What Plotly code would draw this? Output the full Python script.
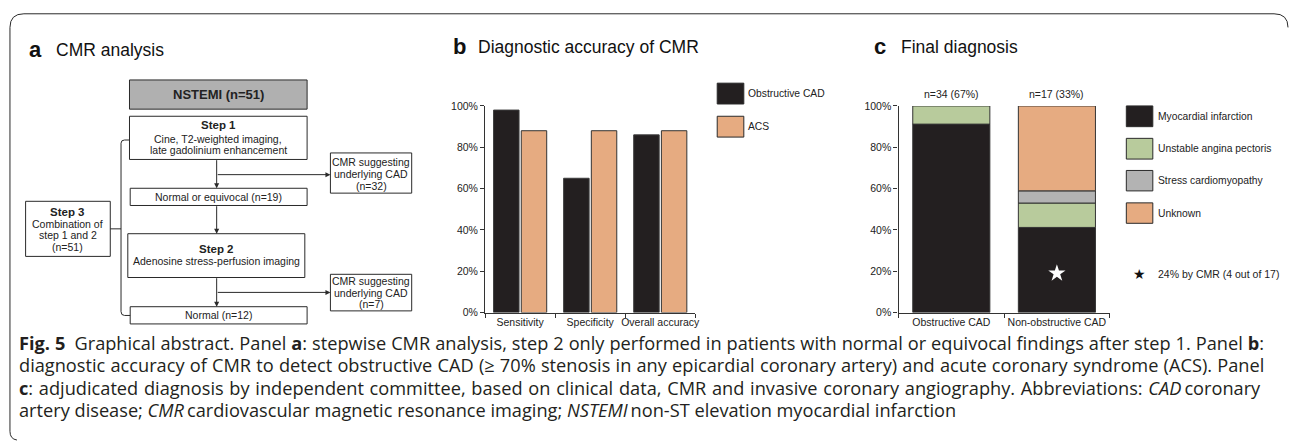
import plotly.graph_objects as go

W, H = 1293, 447

# ---------------- data ----------------
# Panel b: diagnostic accuracy of CMR (%)
acc_categories = ["Sensitivity", "Specificity", "Overall accuracy"]
acc_obstructive_cad = [98, 65, 86]
acc_acs = [88, 88, 88]
acc_series_names = ["Obstructive CAD", "ACS"]

# Panel c: final diagnosis (% of each group)
dx_categories = ["Obstructive CAD", "Non-obstructive CAD"]
dx_group_labels = ["n=34 (67%)", "n=17 (33%)"]
dx_mi = [91.2, 41.2]
dx_uap = [8.8, 11.8]
dx_stress = [None, 5.9]
dx_unknown = [None, 41.1]
dx_series_names = ["Myocardial infarction", "Unstable angina pectoris",
                   "Stress cardiomyopathy", "Unknown"]
star_category = ["Non-obstructive CAD"]
star_value = [19]
star_note = "24% by CMR (4 out of 17)"

pct_ticks = [0, 20, 40, 60, 80, 100]
pct_labels = ["0%", "20%", "40%", "60%", "80%", "100%"]

# Panel a: flowchart texts
fc_nstemi = "NSTEMI (n=51)"
fc_step1 = ["Step 1", "Cine, T2-weighted imaging,", "late gadolinium enhancement"]
fc_cmr1 = ["CMR suggesting", "underlying CAD", "(n=32)"]
fc_normeq = "Normal or equivocal (n=19)"
fc_step2 = ["Step 2", "Adenosine stress-perfusion imaging"]
fc_cmr2 = ["CMR suggesting", "underlying CAD", "(n=7)"]
fc_normal = "Normal (n=12)"
fc_step3 = ["Step 3", "Combination of", "step 1 and 2", "(n=51)"]

caption_lines = [
    "<b>Fig. 5</b>\u2002Graphical abstract. Panel <b>a</b>: stepwise CMR analysis, step 2 only performed in patients with normal or equivocal findings after step 1. Panel <b>b</b>:",
    "diagnostic accuracy of CMR to detect obstructive CAD (\u2265 70% stenosis in any epicardial coronary artery) and acute coronary syndrome (ACS). Panel",
    "<b>c</b>: adjudicated diagnosis by independent committee, based on clinical data, CMR and invasive coronary angiography. Abbreviations: <i>CAD</i>\u2009coronary",
    "artery disease; <i>CMR</i>\u2009cardiovascular magnetic resonance imaging; <i>NSTEMI</i>\u2009non-ST elevation myocardial infarction",
]
caption_word_spacing = [0.25, 0.5, 1.0, 0]

# ---------------- styles ----------------
BLACK = "#231f20"
ORANGE = "#e6ab81"
GREEN = "#b8cb9c"
GRAY = "#b3b3b3"
LINE = "#2a2a2a"
ARIAL = "Liberation Sans, Arial, sans-serif"
CAPFONT = "Open Sans, sans-serif"


def X(p):
    return p / W


def Y(p):
    return 1 - p / H


shapes = []
annotations = []


def box(x0, y0, x1, y1, fill="white", lw=1):
    shapes.append(dict(type="rect", xref="paper", yref="paper",
                       x0=X(x0), x1=X(x1), y0=Y(y1), y1=Y(y0),
                       line=dict(color=LINE, width=lw), fillcolor=fill))


def txt(x, y, s, size=10.5, anchor="center", color="#222", family=ARIAL):
    annotations.append(dict(xref="paper", yref="paper", x=X(x), y=Y(y), text=s,
                            showarrow=False, xanchor=anchor, yanchor="middle",
                            font=dict(size=size, color=color, family=family),
                            borderpad=0))


def arrow(x0, y0, x1, y1):
    annotations.append(dict(xref="paper", yref="paper", x=X(x1), y=Y(y1),
                            ax=x0 - x1, ay=y0 - y1, axref="pixel", ayref="pixel",
                            text="", showarrow=True, arrowhead=2, arrowsize=1,
                            arrowwidth=1, arrowcolor=LINE, standoff=0))


def path(pts_str):
    shapes.append(dict(type="path", xref="paper", yref="paper", path=pts_str,
                       line=dict(color=LINE, width=1)))


def P(x, y):
    return f"{X(x):.6f},{Y(y):.6f}"


# outer border (top & left, rounded)
path(f"M{P(1293, 22)} Q{P(1293, 8)} {P(1279, 8)} L{P(24, 8)} Q{P(10, 8)} {P(10, 22)} "
     f"L{P(10, 437)} Q{P(10, 445)} {P(17, 446)}")

# ---------------- panel titles ----------------
txt(28, 45, "<b>a</b>", size=22, anchor="left", color="#111")
txt(55, 45, "CMR analysis", size=17.5, anchor="left", color="#111")
txt(454, 42, "<b>b</b>", size=22, anchor="left", color="#111")
txt(479, 42, "Diagnostic accuracy of CMR", size=17.5, anchor="left", color="#111")
txt(876, 42, "<b>c</b>", size=22, anchor="left", color="#111")
txt(903, 42, "Final diagnosis", size=17.5, anchor="left", color="#111")

# ---------------- flowchart ----------------
CX = 217.5
box(130, 76, 308.3, 106, fill="#b0b0b0")
txt(219, 91, f"<b>{fc_nstemi}</b>", size=13)

box(130, 113.3, 308.3, 157.7)
txt(219, 122, f"<b>{fc_step1[0]}</b>", size=11.5)
txt(219, 136.5, fc_step1[1], size=10.5)
txt(219, 148, fc_step1[2], size=10.5)

box(331.7, 151, 413.3, 192.3)
for i, s in enumerate(fc_cmr1):
    txt(372.5, 160.5 + 12 * i, s, size=10.5)

box(130.7, 187.3, 308.3, 205)
txt(219.5, 196.2, fc_normeq, size=10.5)

box(128.3, 234, 306, 279)
txt(217, 249.5, f"<b>{fc_step2[0]}</b>", size=11.5)
txt(217, 262, fc_step2[1], size=10.5)

box(331.7, 275.7, 413.3, 313.3)
for i, s in enumerate(fc_cmr2):
    txt(372.5, 283 + 11.5 * i, s, size=10.5)

box(130.7, 309, 308.3, 326.7)
txt(219.5, 318, fc_normal, size=10.5)

box(25.7, 200.7, 110.7, 257.3)
txt(68, 211.7, f"<b>{fc_step3[0]}</b>", size=11.5)
for i, s in enumerate(fc_step3[1:]):
    txt(68, 223.5 + 12 * i, s, size=10.5)

arrow(CX, 157.7, CX, 187.3)
arrow(CX, 173.3, 331.7, 173.3)
arrow(CX, 205, CX, 234)
arrow(CX, 279, CX, 309)
arrow(CX, 294.3, 331.7, 294.3)
path(f"M{P(130, 137.7)} L{P(125, 137.7)} Q{P(121.5, 137.7)} {P(121.5, 141)} "
     f"L{P(121.5, 314)} Q{P(121.5, 318)} {P(125, 318)} L{P(130.7, 318)}")
path(f"M{P(110.7, 229)} L{P(121.5, 229)}")

# ---------------- panel b ----------------
fig = go.Figure()
fig.add_trace(go.Bar(x=acc_categories, y=acc_obstructive_cad, name=acc_series_names[0],
                     marker=dict(color=BLACK, line=dict(color="#3c3c3c", width=1)),
                     xaxis="x", yaxis="y", showlegend=False))
fig.add_trace(go.Bar(x=acc_categories, y=acc_acs, name=acc_series_names[1],
                     marker=dict(color=ORANGE, line=dict(color="#333", width=1)),
                     xaxis="x", yaxis="y", showlegend=False))

# legend b
box(720, 79.3, 746.7, 100.7, fill=BLACK)
txt(750, 90, acc_series_names[0], size=10.3, anchor="left")
box(720, 113.3, 746.7, 134.7, fill=ORANGE)
txt(750, 124, acc_series_names[1], size=10.3, anchor="left")

# ---------------- panel c ----------------
def add(a, b):
    return [(p or 0) + (q or 0) for p, q in zip(a, b)]

base_uap = add(dx_mi, [0, 0])
base_sc = add(base_uap, dx_uap)
base_unk = add(base_sc, dx_stress)
c_series = [(dx_mi, [0, 0], BLACK), (dx_uap, base_uap, GREEN),
            (dx_stress, base_sc, GRAY), (dx_unknown, base_unk, ORANGE)]
for (vals, base, col), name in zip(c_series, dx_series_names):
    fig.add_trace(go.Bar(x=dx_categories, y=vals, base=base, name=name,
                         offsetgroup="c", width=0.73,
                         marker=dict(color=col, line=dict(color="#333", width=1)),
                         xaxis="x2", yaxis="y2", showlegend=False))

fig.add_trace(go.Scatter(x=star_category, y=star_value, mode="markers",
                         marker=dict(symbol="star", size=13, color="white",
                                     line=dict(width=0)),
                         xaxis="x2", yaxis="y2", showlegend=False))

for cat, lab in zip(dx_categories, dx_group_labels):
    annotations.append(dict(xref="x2", yref="y2", x=cat, y=100, text=lab,
                            showarrow=False, yanchor="bottom", yshift=4,
                            font=dict(size=10.5, color="#222", family=ARIAL)))

# legend c
leg_c_y = [(102.7, 124), (136, 157.3), (169, 190), (202.3, 223.3)]
for (y0, y1), (vals, base, col), name in zip(leg_c_y, c_series, dx_series_names):
    box(1130.7, y0, 1157.3, y1, fill=col)
    txt(1161, (y0 + y1) / 2, name, size=10.3, anchor="left")
txt(1144, 275, "\u2605", size=14, color="#111", family="DejaVu Sans")
txt(1161, 275, star_note, size=10.5, anchor="left")

# ---------------- caption ----------------
for i, (s, ws) in enumerate(zip(caption_lines, caption_word_spacing)):
    styled = f"<span style='word-spacing:{ws}px'>{s}</span>" if ws else s
    txt(18, 346.5 + 22.8 * i, styled, size=18.2, anchor="left", color="#231f20",
        family=CAPFONT)

# ---------------- axes ----------------
axis_common = dict(showline=True, linecolor="#333", linewidth=1.2, ticks="outside",
                   ticklen=4, tickcolor="#333", showgrid=False, zeroline=False,
                   tickfont=dict(size=10.5, color="#222", family=ARIAL))
yd = [Y(315), Y(102.7)]
fig.update_layout(
    width=W, height=H, margin=dict(l=0, r=0, t=0, b=0),
    paper_bgcolor="white", plot_bgcolor="white",
    barmode="group", bargap=0.21, bargroupgap=0.08,
    xaxis=dict(domain=[X(487), X(698)], anchor="y", type="category",
               range=[-0.5, 2.5], tickson="boundaries", tickangle=0, **axis_common),
    yaxis=dict(domain=yd, anchor="x", range=[0, 100], tickvals=pct_ticks,
               ticktext=pct_labels, **axis_common),
    xaxis2=dict(domain=[X(902), X(1114)], anchor="y2", type="category",
                range=[-0.5, 1.5], tickson="boundaries", tickangle=0, **axis_common),
    yaxis2=dict(domain=yd, anchor="x2", range=[0, 100], tickvals=pct_ticks,
                ticktext=pct_labels, **axis_common),
    shapes=shapes, annotations=annotations,
)

fig.write_html("out.html", config={"displayModeBar": False},
               post_script="document.body.style.margin='0';document.body.style.overflow='hidden';")
